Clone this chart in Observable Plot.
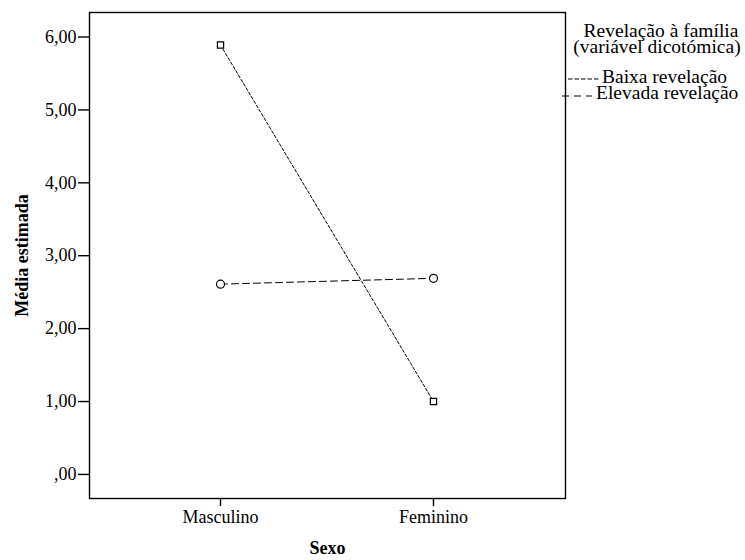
<!DOCTYPE html>
<html>
<head>
<meta charset="utf-8">
<script src="https://cdn.jsdelivr.net/npm/d3@7"></script>
<script src="https://cdn.jsdelivr.net/npm/@observablehq/plot@0.6"></script>
<style>
  html, body { margin: 0; padding: 0; background: #fff; }
  #wrap { position: relative; width: 745px; height: 560px; overflow: hidden; font-family: "Liberation Serif", "Times New Roman", serif; }
  #wrap svg { font-family: "Liberation Serif", "Times New Roman", serif; }
  #legend { position: absolute; left: 0; top: 0; }
</style>
</head>
<body>
<div id="wrap"></div>
<script>
const categories = ["Masculino", "Feminino"];
const seriesNames = ["Baixa revelação", "Elevada revelação"];
const baixaValues = [5.89, 1.00];
const elevadaValues = [2.61, 2.69];
const yTicks = [0, 1, 2, 3, 4, 5, 6];
const legendTitle = ["Revelação à família", "(variável dicotómica)"];
const yLabel = "Média estimada";
const xLabel = "Sexo";

const baixa = categories.map((c, i) => ({sexo: c, media: baixaValues[i]}));
const elevada = categories.map((c, i) => ({sexo: c, media: elevadaValues[i]}));

const fmt = d => d === 0 ? ",00" : d.toFixed(2).replace(".", ",");
const serif = '"Liberation Serif", "Times New Roman", serif';

const chart = Plot.plot({
  width: 745,
  height: 560,
  marginLeft: 89,
  marginRight: 180,
  marginTop: 12,
  marginBottom: 62,
  style: {fontFamily: serif, fontSize: "18px", color: "#000", background: "#fff"},
  x: {type: "point", domain: categories, range: [220, 433], padding: 0},
  y: {domain: [-0.33, 6.336]},
  marks: [
    Plot.frame({stroke: "#000", strokeWidth: 1.4}),
    Plot.axisY({ticks: yTicks, tickFormat: fmt, tickSize: 11, tickPadding: 2, label: null, fontSize: 18, strokeWidth: 1.4}),
    Plot.axisX({tickSize: 8, tickPadding: 4, label: null, fontSize: 18, strokeWidth: 1.4}),
    Plot.text([yLabel], {text: d => d, frameAnchor: "left", textAnchor: "middle", dx: -67, rotate: -90, fontWeight: "bold", fontSize: 18}),
    Plot.text([xLabel], {text: d => d, frameAnchor: "bottom", textAnchor: "middle", dy: 55, fontWeight: "bold", fontSize: 18}),
    Plot.line(baixa, {x: "sexo", y: "media", stroke: "#000", strokeWidth: 1, strokeDasharray: "3,2"}),
    Plot.line(elevada, {x: "sexo", y: "media", stroke: "#000", strokeWidth: 1, strokeDasharray: "7,4"}),
    Plot.dot(baixa, {x: "sexo", y: "media", symbol: "square", r: 3.5, stroke: "#000", fill: "#fff", strokeWidth: 1.2}),
    Plot.dot(elevada, {x: "sexo", y: "media", symbol: "circle", r: 4, stroke: "#000", fill: "#fff", strokeWidth: 1.2})
  ]
});

const wrap = document.getElementById("wrap");
wrap.appendChild(chart);

// Legend (right side)
const svg = d3.select(wrap).append("svg")
  .attr("id", "legend")
  .attr("width", 745).attr("height", 560)
  .style("font-family", serif)
  .style("font-size", "19.5px");

svg.append("text").attr("x", 661).attr("y", 36.5).attr("text-anchor", "middle").text(legendTitle[0]);
svg.append("text").attr("x", 657).attr("y", 53).attr("text-anchor", "middle").text(legendTitle[1]);

const items = [
  {name: seriesNames[0], x1: 568, x2: 600, tx: 602, y: 83, ly: 79, dash: "4.5,2"},
  {name: seriesNames[1], x1: 562, x2: 592, tx: 596, y: 99, ly: 96, dash: "7,5"}
];
items.forEach(it => {
  svg.append("line").attr("x1", it.x1).attr("x2", it.x2).attr("y1", it.ly).attr("y2", it.ly)
    .attr("stroke", "#000").attr("stroke-width", 1).attr("stroke-dasharray", it.dash);
  svg.append("text").attr("x", it.tx).attr("y", it.y).text(it.name);
});
</script>
</body>
</html>
